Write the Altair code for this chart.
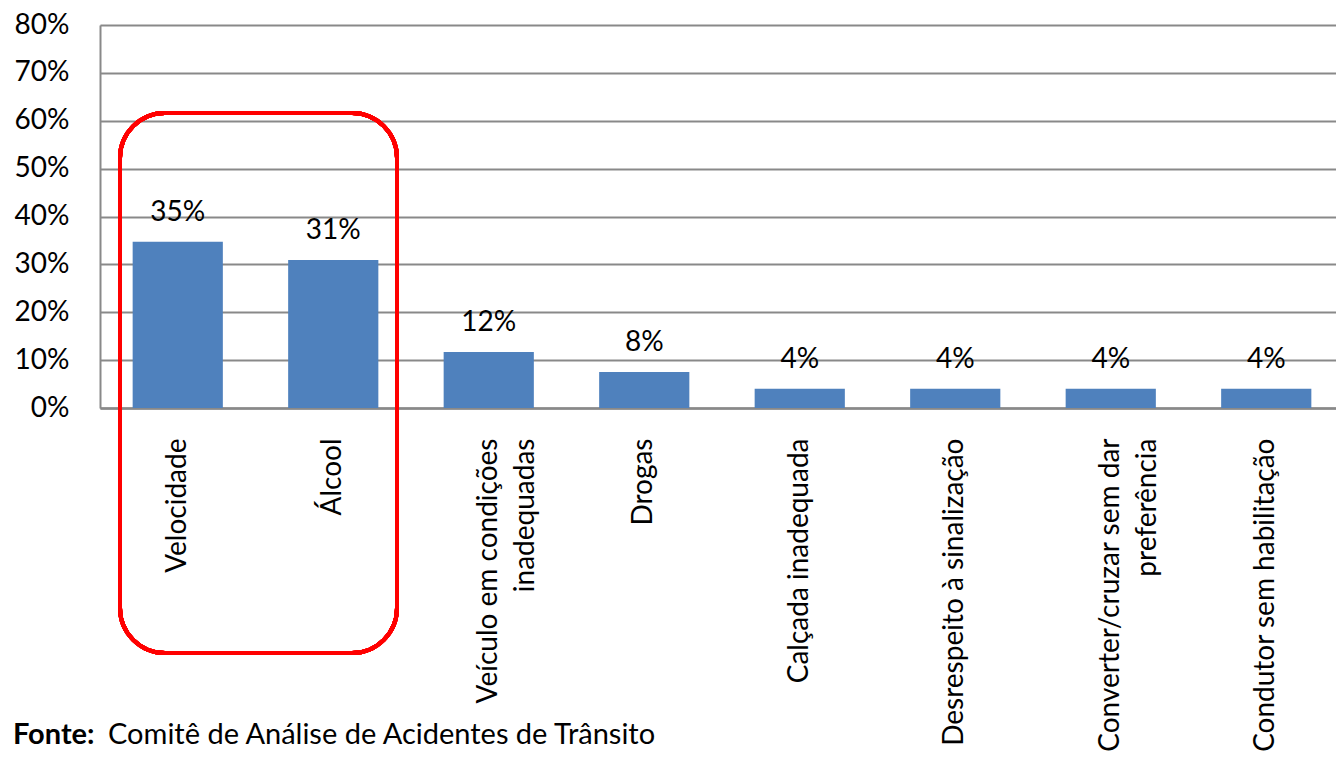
import altair as alt
import pandas as pd

categories = [
    "Velocidade",
    "Álcool",
    "Veículo em condições\ninadequadas",
    "Drogas",
    "Calçada inadequada",
    "Desrespeito à sinalização",
    "Converter/cruzar sem dar\npreferência",
    "Condutor sem habilitação",
]
values = [0.347, 0.309, 0.117, 0.075, 0.040, 0.040, 0.040, 0.040]
y_ticks = [0, 0.1, 0.2, 0.3, 0.4, 0.5, 0.6, 0.7, 0.8]
source_label = "Fonte:"
source_text = "Comitê de Análise de Acidentes de Trânsito"

df = pd.DataFrame({"cat": categories, "val": values})

FONT = "Lato"
GRID = "#898989"

x_enc = alt.X(
    "cat:N",
    sort=categories,
    scale=alt.Scale(paddingInner=0.42, paddingOuter=0.21, range=[0, 1244]),
    axis=alt.Axis(
        title=None,
        labelAngle=270,
        labelFont=FONT,
        labelFontSize=28,
        labelColor="black",
        labelPadding=30,
        labelLineHeight=37,
        labelExpr="split(datum.label, '\\n')",
        labelLimit=400,
        ticks=False,
        domainColor=GRID,
        domainWidth=2.5,
        grid=False,
    ),
)
y_enc = alt.Y(
    "val:Q",
    scale=alt.Scale(domain=[0, 0.8], nice=False),
    axis=alt.Axis(
        title=None,
        values=y_ticks,
        format=".0%",
        labelFont=FONT,
        labelFontSize=28,
        labelColor="black",
        labelPadding=31,
        ticks=False,
        domainColor=GRID,
        domainWidth=2,
        gridColor=GRID,
        gridWidth=2,
    ),
)

base = alt.Chart(df)
bars = base.mark_bar(color="#4F81BD").encode(x=x_enc, y=y_enc)
labels = base.mark_text(
    font=FONT, fontSize=28, color="black", baseline="alphabetic", dy=-21
).encode(x=alt.X("cat:N", sort=categories), y="val:Q", text=alt.Text("val:Q", format=".0%"))

highlight = base.mark_rect(
    fillOpacity=0, stroke="#FF0000", strokeWidth=4, cornerRadius=45
).encode(
    x=alt.value(20), x2=alt.value(297), y=alt.value(88), y2=alt.value(628)
)

foot_df = pd.DataFrame({"a": [source_label], "b": [source_text]})
foot1 = alt.Chart(foot_df).mark_text(
    font=FONT, fontSize=29, fontWeight="bold", align="left", baseline="alphabetic", color="black"
).encode(x=alt.value(-87), y=alt.value(719), text="a:N")
foot2 = alt.Chart(foot_df).mark_text(
    font=FONT, fontSize=29, align="left", baseline="alphabetic", color="black"
).encode(x=alt.value(8), y=alt.value(719), text="b:N")

chart = (
    alt.layer(bars, labels, highlight, foot1, foot2)
    .properties(
        width=1236,
        height=383,
        autosize=alt.AutoSizeParams(type="none"),
        padding={"left": 92, "top": 17, "right": 0, "bottom": 346},
    )
    .configure_view(stroke=None)
    .configure(background="white")
)

chart.save("out.html", embed_options={"renderer": "svg", "actions": False})
